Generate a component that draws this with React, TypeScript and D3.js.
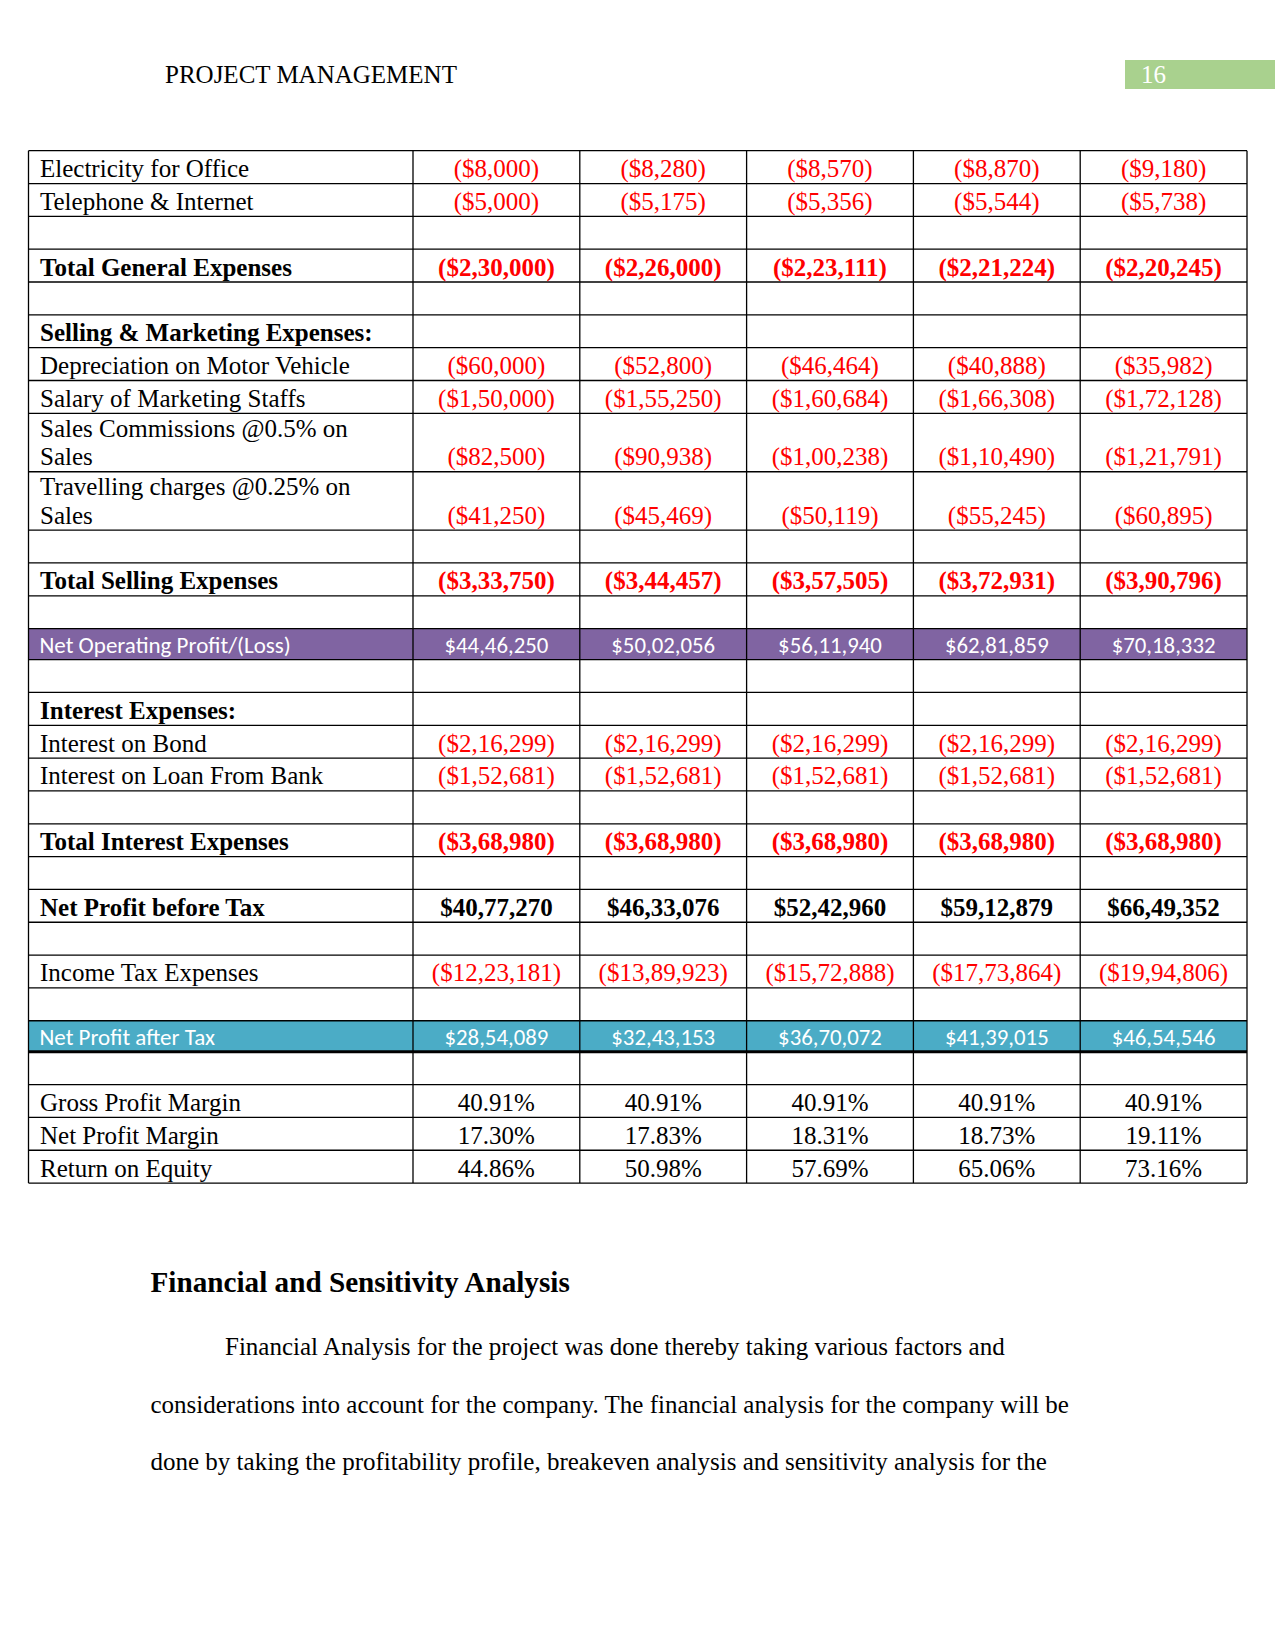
import React from "react";
import * as d3 from "d3";

// ---------- data ----------
const rowLabels = [
  "Electricity for Office",
  "Telephone & Internet",
  "",
  "Total General Expenses",
  "",
  "Selling & Marketing Expenses:",
  "Depreciation on Motor Vehicle",
  "Salary of Marketing Staffs",
  "Sales Commissions @0.5% on\nSales",
  "Travelling charges @0.25% on\nSales",
  "",
  "Total Selling Expenses",
  "",
  "Net Operating Profit/(Loss)",
  "",
  "Interest Expenses:",
  "Interest on Bond",
  "Interest on Loan From Bank",
  "",
  "Total Interest Expenses",
  "",
  "Net Profit before Tax",
  "",
  "Income Tax Expenses",
  "",
  "Net Profit after Tax",
  "",
  "Gross Profit Margin",
  "Net Profit Margin",
  "Return on Equity",
];

const year1 = [-8000, -5000, null, -230000, null, null, -60000, -150000, -82500, -41250, null, -333750, null, 4446250, null, null, -216299, -152681, null, -368980, null, 4077270, null, -1223181, null, 2854089, null, 40.91, 17.3, 44.86];
const year2 = [-8280, -5175, null, -226000, null, null, -52800, -155250, -90938, -45469, null, -344457, null, 5002056, null, null, -216299, -152681, null, -368980, null, 4633076, null, -1389923, null, 3243153, null, 40.91, 17.83, 50.98];
const year3 = [-8570, -5356, null, -223111, null, null, -46464, -160684, -100238, -50119, null, -357505, null, 5611940, null, null, -216299, -152681, null, -368980, null, 5242960, null, -1572888, null, 3670072, null, 40.91, 18.31, 57.69];
const year4 = [-8870, -5544, null, -221224, null, null, -40888, -166308, -110490, -55245, null, -372931, null, 6281859, null, null, -216299, -152681, null, -368980, null, 5912879, null, -1773864, null, 4139015, null, 40.91, 18.73, 65.06];
const year5 = [-9180, -5738, null, -220245, null, null, -35982, -172128, -121791, -60895, null, -390796, null, 7018332, null, null, -216299, -152681, null, -368980, null, 6649352, null, -1994806, null, 4654546, null, 40.91, 19.11, 73.16];

const boldRows = ["Total General Expenses", "Selling & Marketing Expenses:", "Total Selling Expenses", "Interest Expenses:", "Total Interest Expenses", "Net Profit before Tax"];
const percentRows = ["Gross Profit Margin", "Net Profit Margin", "Return on Equity"];
const highlightRows = ["Net Operating Profit/(Loss)", "Net Profit after Tax"];

const headerTitle = "PROJECT MANAGEMENT";
const pageNumber = "16";
const sectionHeading = "Financial and Sensitivity Analysis";
const paragraphLines = [
  "Financial Analysis for the project was done thereby taking various factors and",
  "considerations into account for the company. The financial analysis for the company will be",
  "done by taking the profitability profile, breakeven analysis and sensitivity analysis for the",
];

// ---------- layout / style ----------
const W = 1275;
const H = 1651;
const tableLeft = 28.5;
const tableRight = 1247;
const labelColRight = 413;
const tableTop = 150.7;
const serif = "'Liberation Serif', 'Times New Roman', serif";
const sans = "Carlito, Lato, Calibri, sans-serif";
const RED = "#ff0000";
const highlightFill: Record<string, string> = {
  "Net Operating Profit/(Loss)": "#8064a2",
  "Net Profit after Tax": "#4bacc6",
};

const series = [year1, year2, year3, year4, year5];

const locale = d3.formatLocale({
  decimal: ".",
  thousands: ",",
  grouping: [3, 2, 2, 2, 2, 2],
  currency: ["$", ""],
});
const fmtCur = locale.format("($,.0f");

function fmtValue(v: number | null, label: string): string {
  if (v === null || v === undefined) return "";
  if (percentRows.includes(label)) return v.toFixed(2) + "%";
  return fmtCur(v);
}

export default function App() {
  const x = d3
    .scaleBand<number>()
    .domain(d3.range(series.length))
    .range([labelColRight, tableRight])
    .paddingInner(0)
    .paddingOuter(0);

  const heights = rowLabels.map((l) =>
    l.includes("\n") ? 58.4 : highlightRows.includes(l) ? 31 : 32.83
  );
  const cum = Array.from(d3.cumsum(heights));
  const y0 = rowLabels.map((_, i) => tableTop + (i === 0 ? 0 : cum[i - 1]));
  const y1 = rowLabels.map((_, i) => tableTop + cum[i]);
  const tableBottom = y1[y1.length - 1];

  const vLines = [tableLeft, ...d3.range(series.length).map((i) => x(i) as number), tableRight];

  return (
    <svg
      width={W}
      height={H}
      viewBox={`0 0 ${W} ${H}`}
      style={{ position: "absolute", left: 0, top: 0, background: "#fff" }}
    >
      <rect x={0} y={0} width={W} height={H} fill="#fff" />
      {/* page header */}
      <text x={165} y={83} fontFamily={serif} fontSize={25} fill="#000">
        {headerTitle}
      </text>
      <rect x={1125} y={60} width={150} height={29} fill="#a9d18e" />
      <text x={1141} y={82.5} fontFamily={serif} fontSize={25} fill="#fff">
        {pageNumber}
      </text>

      {/* highlight row fills */}
      {rowLabels.map((l, i) =>
        highlightRows.includes(l) ? (
          <rect
            key={"hl" + i}
            x={tableLeft}
            y={y0[i]}
            width={tableRight - tableLeft}
            height={y1[i] - y0[i]}
            fill={highlightFill[l]}
          />
        ) : null
      )}

      {/* grid lines */}
      <line x1={tableLeft} x2={tableRight} y1={tableTop} y2={tableTop} stroke="#000" strokeWidth={1.3} />
      {y1.map((yy, i) => (
        <line
          key={"h" + i}
          x1={tableLeft}
          x2={tableRight}
          y1={yy}
          y2={yy}
          stroke="#000"
          strokeWidth={rowLabels[i] === "Net Profit after Tax" ? 3 : 1.3}
        />
      ))}
      {vLines.map((xx, i) => (
        <line key={"v" + i} x1={xx} x2={xx} y1={tableTop} y2={tableBottom} stroke="#000" strokeWidth={1.3} />
      ))}

      {/* labels and values */}
      {rowLabels.map((l, i) => {
        const hl = highlightRows.includes(l);
        const bold = boldRows.includes(l);
        const base = y1[i] - (hl ? 7 : 6.5);
        const parts = l.split("\n");
        return (
          <g key={"r" + i}>
            {parts.map((p, k) => (
              <text
                key={k}
                x={hl ? 39.5 : 40}
                y={base - (parts.length - 1 - k) * 28.3}
                fontFamily={hl ? sans : serif}
                fontSize={hl ? 23 : 25}
                fontWeight={bold ? "bold" : "normal"}
                fill={hl ? "#fff" : "#000"}
              >
                {p}
              </text>
            ))}
            {series.map((s, j) => {
              const v = s[i];
              const txt = fmtValue(v, l);
              if (!txt) return null;
              const color = hl ? "#fff" : v !== null && v < 0 ? RED : "#000";
              return (
                <text
                  key={"c" + j}
                  x={(x(j) as number) + x.bandwidth() / 2}
                  y={base}
                  textAnchor="middle"
                  fontFamily={hl ? sans : serif}
                  fontSize={hl ? 22.8 : 25}
                  fontWeight={bold ? "bold" : "normal"}
                  fill={color}
                >
                  {txt}
                </text>
              );
            })}
          </g>
        );
      })}

      {/* section text */}
      <text x={150.5} y={1292} fontFamily={serif} fontSize={29.2} fontWeight="bold" fill="#000">
        {sectionHeading}
      </text>
      {paragraphLines.map((t, i) => (
        <text
          key={"p" + i}
          x={i === 0 ? 225 : 150.5}
          y={1355 + i * 57.6}
          fontFamily={serif}
          fontSize={25}
          fill="#000"
        >
          {t}
        </text>
      ))}
    </svg>
  );
}
